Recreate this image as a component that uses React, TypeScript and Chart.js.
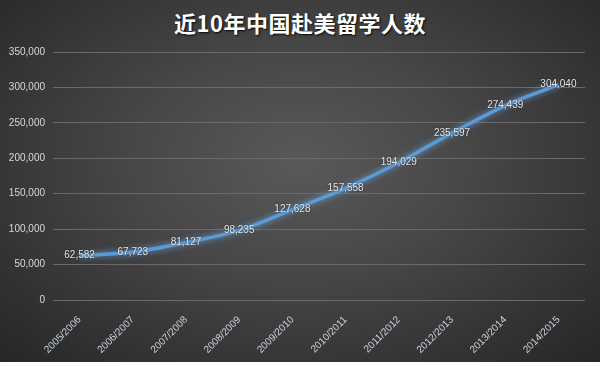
import React, { useEffect, useRef } from "react";
import { Chart, registerables } from "chart.js";
Chart.register(...registerables);

const categories = ["2005/2006","2006/2007","2007/2008","2008/2009","2009/2010","2010/2011","2011/2012","2012/2013","2013/2014","2014/2015"];
const students = [62582, 67723, 81127, 98235, 127628, 157558, 194029, 235597, 274439, 304040];
const titleText = "近10年中国赴美留学人数";

const fmt = (v: number) => v.toLocaleString("en-US");

const glowPlugin = {
  id: "glow",
  beforeDatasetDraw(chart: any) {
    const ctx = chart.ctx;
    ctx.save();
    ctx.shadowColor = "rgba(110,170,235,0.85)";
    ctx.shadowBlur = 6;
  },
  afterDatasetDraw(chart: any) {
    chart.ctx.restore();
  },
};

const labelPlugin = {
  id: "valueLabels",
  afterDatasetsDraw(chart: any) {
    const ctx = chart.ctx;
    const meta = chart.getDatasetMeta(0);
    ctx.save();
    ctx.font = "10px 'Liberation Sans', Arial, sans-serif";
    ctx.textAlign = "center";
    ctx.textBaseline = "middle";
    ctx.shadowColor = "rgba(0,0,0,0.6)";
    ctx.shadowBlur = 2;
    ctx.fillStyle = "#e6e6e6";
    meta.data.forEach((pt: any, i: number) => {
      ctx.fillText(fmt(students[i]), pt.x, pt.y);
    });
    ctx.restore();
  },
};

export default function App() {
  const ref = useRef<HTMLCanvasElement>(null);
  useEffect(() => {
    document.body.style.margin = "0";
    const chart = new Chart(ref.current!, {
      type: "line",
      data: {
        labels: categories,
        datasets: [
          {
            data: students,
            borderColor: "#5b9bd5",
            borderWidth: 3.5,
            pointRadius: 0,
            tension: 0.35,
            cubicInterpolationMode: "monotone",
            fill: false,
          },
        ],
      },
      options: {
        animation: false,
        responsive: false,
        layout: { padding: { top: 52, right: 15, bottom: 0, left: 0 } },
        plugins: {
          legend: { display: false },
          tooltip: { enabled: false },
          title: { display: false },
        },
        scales: {
          x: {
            offset: true,
            grid: { display: false },
            border: { display: false },
            ticks: {
              color: "#c9d2de",
              font: { family: "'Liberation Sans', Arial, sans-serif", size: 10 },
              maxRotation: 45,
              minRotation: 45,
              autoSkip: false,
              padding: 6,
            },
            afterFit(scale: any) {
              scale.height = 62;
            },
          },
          y: {
            min: 0,
            max: 350000,
            ticks: {
              stepSize: 50000,
              color: "#d9d9d9",
              font: { family: "'Liberation Sans', Arial, sans-serif", size: 10 },
              padding: 8,
              callback: (v: any) => fmt(Number(v)),
            },
            grid: { color: "#6a6a6a", drawTicks: false, lineWidth: 1 },
            border: { display: false },
            afterFit(scale: any) {
              scale.width = 53;
            },
          },
        },
      },
      plugins: [glowPlugin, labelPlugin],
    });
    return () => chart.destroy();
  }, []);

  return (
    <div style={{ position: "absolute", left: 0, top: 0, width: 600, height: 366, background: "#ffffff" }}>
      <div
        style={{
          position: "relative",
          width: 600,
          height: 362,
          background: "radial-gradient(ellipse at 50% 45%, #595959 0%, #474747 40%, #262626 100%)",
        }}
      >
        <div
          style={{
            position: "absolute",
            left: 0,
            top: 7,
            width: 600,
            textAlign: "center",
            color: "#ffffff",
            fontFamily: "'Noto Sans CJK SC', sans-serif",
            fontWeight: 700,
            fontSize: 22,
            letterSpacing: "0.5px",
            lineHeight: "30px",
            textShadow: "1px 1px 2px rgba(0,0,0,0.9)",
          }}
        >
          {titleText}
        </div>
        <canvas ref={ref} width={600} height={362} style={{ position: "absolute", left: 0, top: 0 }} />
      </div>
    </div>
  );
}
